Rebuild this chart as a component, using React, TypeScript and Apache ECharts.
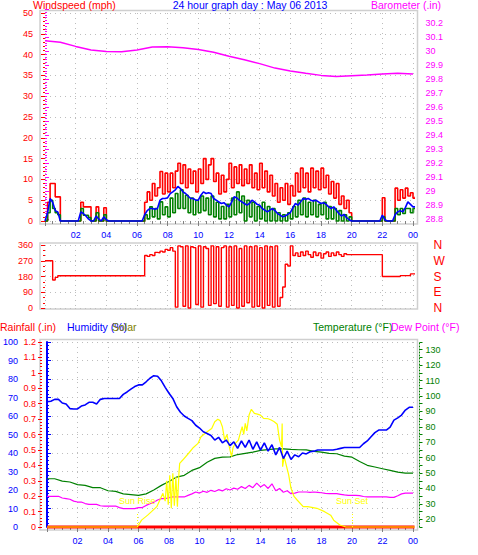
import React, { useEffect, useRef } from "react";
import * as echarts from "echarts";

// ---------- DATA ----------
// Wind, 10-minute samples starting at 00:00
const WIND_STEP_H = 1 / 6;
const windGust = [
  0, 4.5, 9, 9, 5.8, 5.8, 0,
  0, 0, 0, 0, 0, 0, 0,
  4.5, 3.4, 3.4, 3.4, 0, 0, 3.4, 0, 0, 3.2, 0,
  0, 0, 0, 0, 0, 0, 0, 0, 0, 0, 0, 0, 0, 0,
  4.5, 7, 5, 9, 6, 8, 11.9, 6.5, 11.5, 7, 11.5, 8, 12, 13.9, 9, 13.5, 8, 12.5, 9, 12, 7,
  12.5, 9, 15, 10, 13.5, 15, 9.5, 11.5, 6.5, 11, 7, 10, 13.9, 8, 13, 9, 13.5, 8.5, 12.5, 9,
  13.5, 8, 11.5, 7.5, 13.9, 8, 12, 7, 11, 6, 9, 4.5, 8, 5, 9, 4, 8.5, 6, 11.5, 7,
  12.7, 8, 11.5, 7, 12.7, 8, 12, 7.5, 12.7, 8, 11, 6.5, 9.5, 5.5, 9, 4, 6, 3, 5, 2,
  0, 0, 0, 0, 0, 0, 0, 0, 0, 0, 0, 0,
  5.6, 0, 0, 0, 0, 7.9, 5, 7.5, 5.5, 7.9, 6, 6.8, 5.5, 6,
];
const windSpeed = [
  0, 2, 5, 3, 2, 1.5, 0,
  0, 0, 0, 0, 0, 0, 0,
  3, 1.4, 1.4, 0.8, 0, 0, 2, 0, 0, 1.5, 0,
  0, 0, 0, 0, 0, 0, 0, 0, 0, 0, 0, 0, 0, 0,
  1.5, 0.5, 3.4, 1, 3, 0.5, 4.6, 1.5, 3.4, 1, 5.5, 2, 6.6, 3, 7.5, 3, 6.2, 2, 5.5, 1.5, 5,
  2, 6, 2.5, 5.5, 1.5, 6, 1, 4.5, 0.5, 3.5, 0.5, 4, 1, 5.5, 1.5, 7, 2, 6, 0, 5,
  1, 4.5, 0, 3.5, 0.5, 4.5, 0, 3.5, 0, 3, 0, 2, 0, 1.5, 0, 2, 0.5, 3.5, 1, 5,
  1.5, 5.5, 1, 4.5, 1.5, 5, 1, 4, 1.5, 4.5, 0.5, 3.5, 0.5, 3, 0, 2.5, 0, 1.5, 0, 1,
  0, 0, 0, 0, 0, 0, 0, 0, 0, 0, 0, 0,
  1, 0, 0, 0, 0, 3, 1.5, 3, 1.8, 3, 3, 2, 3, 2,
];
const windAvg = [
  0, 2, 5.4, 4.5, 2.5, 2.2, 0,
  0, 0, 0, 0, 0, 0, 0,
  2.2, 1.8, 1.2, 0.5, 0, 0, 1.2, 0.5, 0, 1, 0.3,
  0, 0, 0, 0, 0, 0, 0, 0, 0, 0, 0, 0, 0, 0,
  1.5, 2.5, 3, 3, 2.8, 3, 5, 5.4, 5.4, 5.6, 6.6, 7, 7.5, 8.3, 7.8, 7, 6.6, 6, 5.4, 5.4, 5,
  5, 6.2, 7, 6.6, 6.8, 6.6, 5.4, 5, 4.6, 4.2, 4.4, 3.8, 3.4, 4.5, 5.8, 5.6, 5, 4.6, 4.2, 3.8,
  4.2, 5, 4.6, 4, 3.8, 3, 2.6, 2.2, 2.6, 3, 2.5, 1.8, 1.4, 1, 1.2, 1.6, 2, 3.2, 4.2, 3.8,
  4.6, 5.4, 5.2, 5.4, 5, 4.8, 5, 4.6, 4.2, 4.4, 4, 3.4, 3, 3.4, 2.6, 1.8, 1.2, 1.6, 0.8, 0.3,
  0, 0, 0, 0, 0, 0, 0, 0, 0, 0, 0, 0,
  1.4, 0.3, 0, 0, 0, 1.5, 2.2, 2.5, 2.2, 3.2, 4.6, 4, 3.4, 3.4,
];
const windDir = [
  270, 270, 270, 160, 175, 184,
  184, 184, 184, 184, 184, 184, 184, 184, 184, 184, 184, 184, 184, 184, 184, 184, 184,
  184, 184, 184, 184, 184, 184, 184, 184, 184, 184, 184, 184, 184, 184, 184, 184,
  300, 295, 305, 300, 318, 315, 325, 320, 335, 330, 345, 325,
  5, 355, 350, 10, 355, 0, 350, 345, 20, 355, 5, 350, 340, 15, 355, 25, 350, 10, 345, 355,
  5, 350, 15, 355, 0, 340, 10, 355, 30, 350, 5, 355, 10, 345, 0, 355, 15, 350, 5, 355, 10,
  60, 120, 250, 240, 355,
  300, 315, 295, 320, 300, 325, 305, 290, 320, 300, 315, 285, 310, 320, 295, 315, 300, 320, 305, 295, 310, 305,
  305, 305, 305, 305, 305, 305, 305, 305, 305, 305, 305, 305, 305,
  180, 180, 180, 180, 180, 180, 180,
  185, 185, 185, 185,
  195, 195, 195,
];

// Barometer, hourly
const BARO_STEP_H = 1;
const barometer = [
  30.075, 30.065, 30.035, 30.01, 29.998, 29.997, 30.01, 30.03, 30.033, 30.025, 30.013, 29.993,
  29.965, 29.94, 29.912, 29.88, 29.86, 29.843, 29.828, 29.82, 29.825, 29.83, 29.838, 29.843, 29.838,
];

// Humidity and dew point, 15-minute samples
const HUM_STEP_H = 0.25;
const humidity = [
  67.7, 68, 69, 69, 67, 66.5, 64, 63.8, 63.8, 65.4,
  66, 67.4, 67.4, 66.5, 69, 69.5, 69.5, 69.5, 69.5, 69.5,
  71.7, 73, 74.5, 75.9, 76.8, 76.8, 78.5, 80.4, 81.8, 81.5,
  79, 75.5, 72.3, 69.5, 65, 62, 60, 58.7, 57.5, 55,
  53.5, 51.5, 50.5, 49.5, 47, 48.5, 45.5, 47, 44, 46,
  42.5, 46.5, 43, 47, 42, 46, 41.5, 45.5, 41, 44.5,
  39, 43, 37, 41, 36.5, 39, 38, 40, 39.5, 40.7,
  41, 41.6, 41.6, 41.6, 41.6, 41.6, 42, 42.5, 43, 43,
  43, 43, 43, 45, 46.5, 48.8, 51, 52.4, 52.4, 52.4,
  54, 57.8, 59, 60.5, 63.2, 64.7, 64.7,
];
const dewPoint = [
  34.9, 34.9, 34.9, 34.9, 33.8, 33.4, 33, 31.8, 31.2, 31.2,
  30.2, 29.7, 29.7, 29.7, 28.8, 28.6, 28.6, 28.6, 28.6, 27.6,
  26.9, 26.9, 26.9, 26.9, 27.6, 27.6, 29, 30.1, 31, 32.5,
  33.4, 33.4, 34, 34.5, 34.5, 34.5, 34.5, 35.5, 36.5, 37.7,
  37, 38.2, 37.5, 38.8, 38, 39.2, 38.4, 39.8, 39, 40.2,
  39.5, 41.2, 40, 42, 40.5, 43.5, 41, 42.5, 40, 43,
  38.5, 40, 37.5, 38.5, 36.6, 37, 37.7, 37.7, 37.7, 37.5,
  37.7, 37.5, 37.2, 36.8, 36.6, 36.6, 36.6, 36.2, 35.8, 35.5,
  35.5, 35.5, 35.3, 34.8, 34.5, 34.5, 34.5, 34.5, 34.5, 34.5,
  34.2, 34.2, 35.3, 36.5, 37, 37, 37,
];

// Temperature, 30-minute samples
const TEMP_STEP_H = 0.5;
const temperature = [
  46.3, 46.3, 44.8, 44.2, 42.5, 42, 40.5, 40.5, 38.5, 38.1,
  36.5, 36, 35.5, 36.5, 39, 42, 44.5, 47.4, 48.5, 51.7,
  53.5, 57, 59.5, 60.3, 60.5, 62, 62.8, 63.6, 64.7, 65.2,
  65.7, 65.7, 65.3, 65.1, 65, 64, 63.6, 62.8, 62.5, 61,
  60.3, 57.5, 55, 53.9, 52.8, 51.7, 50.6, 50, 50,
];

// Solar radiation (hour, W/m2)
const solarHour = [
  0, 5.92, 6.2, 6.6, 6.85, 7.2, 7.4, 7.6, 7.75, 7.85, 7.95, 8.05, 8.15, 8.25, 8.35, 8.45, 8.55, 8.65,
  8.7, 8.9, 9.3, 9.6, 9.9, 10.1, 10.5, 10.8, 11.0, 11.2, 11.35, 11.5, 11.65, 11.8, 11.95, 12.1, 12.2,
  12.35, 12.55, 12.7, 12.8, 12.9, 13.0, 13.1, 13.25, 13.4, 13.6, 13.8, 14.0, 14.2, 14.5, 14.7, 14.9,
  15.1, 15.25, 15.38, 15.42, 15.45, 15.55, 15.7, 15.85, 16.0, 16.2, 16.4, 16.8, 17.1, 17.7, 18.2,
  18.6, 18.8, 19.2, 19.6, 24.1,
];
const solarValue = [
  0, 0, 37, 64, 83, 110, 146, 182, 140, 250, 120, 280, 101, 290, 115, 270, 110, 290,
  344, 362, 400, 430, 452, 488, 515, 533, 569, 582, 575, 542, 470, 500, 434, 380, 430,
  452, 470, 515, 542, 500, 560, 520, 605, 636, 614, 610, 605, 587, 585, 578, 569,
  555, 470, 434, 560, 326, 380, 330, 280, 209, 165, 146, 110, 110, 101, 83,
  64, 37, 11, 0, 0,
];

// Rainfall (hour, inches)
const rainHour = [0, 24.1];
const rainValue = [0, 0];

const sunriseHour = 5.92;
const sunsetHour = 20.0;
const dirNames: Record<number, string> = { 0: "N", 90: "E", 180: "S", 270: "W", 360: "N" };

// ---------- STYLE ----------
const FONT = "'Liberation Sans', Arial, Helvetica, sans-serif";
const RED = "#ff0000";
const BLUE = "#0000ff";
const GREEN = "#008000";
const MAGENTA = "#ff00ff";
const YELLOW = "#ffff00";
const OLIVE = "#808000";
const GRIDLINE = { show: true, lineStyle: { color: "#bdbdbd", type: [1, 4] as any, width: 1 } };
const FRAME = "#cfcfcf";

const series = (vals: number[], step: number) => vals.map((v, i) => [i * step, v]);
const zip = (a: number[], b: number[]) => a.map((v, i) => [v, b[i]]);
const hourLabel = (v: number) => (v === 0 ? "" : String(v % 24).padStart(2, "0"));
const trim = (d: number) => (v: number) => String(parseFloat(v.toFixed(d)));

function buildOption(): any {
  const gridPos = { left: 45, right: 65 };
  const xBase = { type: "value", min: 0, max: 24, interval: 2 };
  const xVisible = (gridIndex: number) => ({
    ...xBase,
    gridIndex,
    position: "bottom",
    offset: 3,
    axisLine: { show: false },
    axisTick: { show: true, length: 5, lineStyle: { color: "#808080" } },
    minorTick: { show: true, splitNumber: 4, length: 3, lineStyle: { color: "#808080" } },
    axisLabel: { color: BLUE, fontSize: 9, margin: 6, formatter: hourLabel, fontFamily: FONT },
    splitLine: GRIDLINE,
  });
  const sunLine = (hour: number, name: string) => {
    const top = { color: YELLOW, fontSize: 9, distance: 7, fontFamily: FONT };
    const bottom = { color: BLUE, fontSize: 8, distance: 8, fontFamily: FONT };
    const ls = { color: YELLOW, type: [1, 2], width: 1 };
    return [
      [
        { coord: [hour, 0], lineStyle: ls, label: { show: true, position: "end", formatter: name, ...top } },
        { coord: [hour, 81], lineStyle: ls, label: { show: true, position: "end", formatter: name, ...top } },
      ],
      [
        { coord: [hour, 0], lineStyle: { opacity: 0 }, label: { show: true, position: "start", formatter: name, ...bottom } },
        { coord: [hour, 81], lineStyle: { opacity: 0 }, label: { show: true, position: "start", formatter: name, ...bottom } },
      ],
    ];
  };

  const lineS = (name: string, data: any[], color: string, width: number, xi: number, yi: number, extra: any = {}) => ({
    name,
    type: "line",
    data,
    xAxisIndex: xi,
    yAxisIndex: yi,
    showSymbol: false,
    symbol: "none",
    clip: false,
    lineStyle: { color, width },
    itemStyle: { color },
    silent: true,
    ...extra,
  });

  return {
    animation: false,
    backgroundColor: "#ffffff",
    textStyle: { fontFamily: FONT },
    grid: [
      { ...gridPos, top: 13, height: 208 },
      { ...gridPos, top: 9.3, height: 210 },
      { ...gridPos, top: 245, height: 63 },
      { ...gridPos, top: 342, height: 185 },
    ],
    xAxis: [
      xVisible(0),
      { ...xBase, gridIndex: 1, show: false },
      {
        ...xBase,
        gridIndex: 2,
        axisLine: { show: false },
        axisTick: { show: false },
        axisLabel: { show: false },
        splitLine: GRIDLINE,
      },
      xVisible(3),
    ],
    yAxis: [
      {
        type: "value", gridIndex: 0, position: "left", offset: 5, min: 0, max: 50, interval: 5,
        axisLine: { show: false },
        axisTick: { show: true, length: 4, lineStyle: { color: RED } },
        minorTick: { show: true, splitNumber: 5, length: 2, lineStyle: { color: RED } },
        axisLabel: { color: RED, fontSize: 9, margin: 7 },
        splitLine: GRIDLINE,
      },
      {
        type: "value", gridIndex: 1, position: "right", offset: 6.5, min: 28.8, max: 30.3, interval: 0.1,
        axisLine: { show: false },
        axisTick: { show: true, length: 4, lineStyle: { color: MAGENTA } },
        minorTick: { show: true, splitNumber: 5, length: 2, lineStyle: { color: MAGENTA } },
        axisLabel: { color: MAGENTA, fontSize: 9, margin: 6, formatter: (v: number) => (v > 30.25 ? "" : trim(1)(v)) },
        splitLine: { show: false },
      },
      {
        type: "value", gridIndex: 2, position: "left", offset: 5, min: 0, max: 360, interval: 90,
        axisLine: { show: false },
        axisTick: { show: true, length: 4, lineStyle: { color: RED } },
        minorTick: { show: true, splitNumber: 3, length: 2, lineStyle: { color: RED } },
        axisLabel: { color: RED, fontSize: 9, margin: 7 },
        splitLine: GRIDLINE,
      },
      {
        type: "value", gridIndex: 2, position: "right", offset: 6.5, min: 0, max: 360, interval: 90,
        axisLine: { show: false },
        axisTick: { show: false },
        axisLabel: { color: RED, fontSize: 12, margin: 14, formatter: (v: number) => dirNames[v] ?? "" },
        splitLine: { show: false },
      },
      {
        type: "value", gridIndex: 3, position: "left", offset: 23, min: 0, max: 100, interval: 10,
        axisLine: { show: true, lineStyle: { color: BLUE, width: 2 } },
        axisTick: { show: true, inside: true, length: 4, lineStyle: { color: BLUE } },
        minorTick: { show: true, splitNumber: 5, length: 2, lineStyle: { color: BLUE } },
        axisLabel: { color: BLUE, fontSize: 9, margin: 6 },
        splitLine: GRIDLINE,
      },
      {
        type: "value", gridIndex: 3, position: "left", offset: 5, min: 0, max: 1.2, interval: 0.1,
        axisLine: { show: false },
        axisTick: { show: true, length: 4, lineStyle: { color: RED } },
        minorTick: { show: true, splitNumber: 5, length: 2, lineStyle: { color: RED } },
        axisLabel: { color: RED, fontSize: 9, margin: 6, formatter: trim(2) },
        splitLine: { show: false },
      },
      {
        type: "value", gridIndex: 3, position: "right", offset: 6.5, min: 15, max: 135, interval: 5,
        axisLine: { show: true, lineStyle: { color: GREEN, type: [1, 2], width: 1 } },
        axisTick: { show: true, length: 3, lineStyle: { color: GREEN } },
        axisLabel: { color: GREEN, fontSize: 9, margin: 6, formatter: (v: number) => (v % 10 === 0 ? String(v) : "") },
        splitLine: { show: false },
      },
      { type: "value", gridIndex: 3, min: 0, max: 1000, show: false },
    ],
    series: [
      lineS("Barometer", series(barometer, BARO_STEP_H), MAGENTA, 1.5, 1, 1),
      lineS("Gust", series(windGust, WIND_STEP_H), RED, 1.6, 0, 0, { step: "end" }),
      lineS("Speed", series(windSpeed, WIND_STEP_H), GREEN, 1.6, 0, 0, { step: "end" }),
      lineS("Average", series(windAvg, WIND_STEP_H), BLUE, 1.6, 0, 0),
      lineS("Direction", series(windDir, WIND_STEP_H), RED, 1.4, 2, 2, { step: "end" }),
      lineS("Rainfall", zip(rainHour, rainValue), RED, 3, 3, 5),
      lineS("Temperature", series(temperature, TEMP_STEP_H), GREEN, 1.2, 3, 6),
      lineS("Dew Point", series(dewPoint, HUM_STEP_H), MAGENTA, 1.2, 3, 6),
      lineS("Solar", zip(solarHour, solarValue), YELLOW, 1.2, 3, 7, {
        markLine: {
          silent: true,
          symbol: ["none", "none"],
          animation: false,
          data: [...sunLine(sunriseHour, "Sun Rise"), ...sunLine(sunsetHour, "Sun Set")],
        },
      }),
      lineS("Humidity", series(humidity, HUM_STEP_H), BLUE, 1.6, 3, 4),
    ],
    graphic: [
      { type: "rect", shape: { x: 40, y: 10.5, width: 377.5, height: 213.5 }, style: { fill: "none", stroke: FRAME, lineWidth: 1.5 }, silent: true },
      { type: "rect", shape: { x: 40, y: 243, width: 377.5, height: 66 }, style: { fill: "none", stroke: FRAME, lineWidth: 1.5 }, silent: true },
      { type: "rect", shape: { x: 40, y: 339.5, width: 377.5, height: 190.5 }, style: { fill: "none", stroke: FRAME, lineWidth: 1.5 }, silent: true },
      { type: "text", x: 33, y: 4.5, style: { text: "Windspeed (mph)", fill: RED, font: `10.5px ${FONT}`, verticalAlign: "middle" } },
      { type: "text", x: 250, y: 4.5, style: { text: "24 hour graph day : May 06 2013", fill: BLUE, font: `10.5px ${FONT}`, align: "center", verticalAlign: "middle" } },
      { type: "text", x: 371, y: 4.5, style: { text: "Barometer (.in)", fill: MAGENTA, font: `10.5px ${FONT}`, verticalAlign: "middle" } },
      { type: "text", x: 0, y: 327, style: { text: "Rainfall (.in)", fill: RED, font: `10.5px ${FONT}`, verticalAlign: "middle" } },
      { type: "text", x: 67, y: 327, style: { text: "Humidity (%)", fill: BLUE, font: `10.5px ${FONT}`, verticalAlign: "middle" } },
      { type: "text", x: 112, y: 327, style: { text: "Solar", fill: OLIVE, font: `10.5px ${FONT}`, verticalAlign: "middle" } },
      { type: "text", x: 313, y: 327, style: { text: "Temperature (°F)", fill: GREEN, font: `10.5px ${FONT}`, verticalAlign: "middle" } },
      { type: "text", x: 391, y: 327, style: { text: "Dew Point (°F)", fill: MAGENTA, font: `10.5px ${FONT}`, verticalAlign: "middle" } },
    ],
  };
}

export default function App() {
  const ref = useRef<HTMLDivElement>(null);
  useEffect(() => {
    if (!ref.current) return;
    const chart = echarts.init(ref.current, null, { renderer: "svg" });
    chart.setOption(buildOption());
    return () => chart.dispose();
  }, []);
  return (
    <div
      ref={ref}
      style={{ position: "fixed", left: 0, top: 0, width: 478, height: 555, background: "#fff" }}
    />
  );
}
